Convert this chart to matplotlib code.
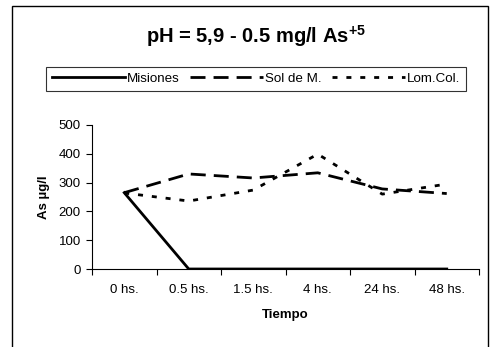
import matplotlib
matplotlib.use("Agg")
import matplotlib.pyplot as plt
from matplotlib.patches import Rectangle
from matplotlib.lines import Line2D

plt.rcParams['font.family'] = ['Liberation Sans', 'DejaVu Sans']
plt.rcParams['mathtext.fontset'] = 'custom'
plt.rcParams['mathtext.bf'] = 'Liberation Sans:bold'
plt.rcParams['mathtext.rm'] = 'Liberation Sans'

categories = ["0 hs.", "0.5 hs.", "1.5 hs.", "4 hs.", "24 hs.", "48 hs."]
misiones = [265, 0, 0, 0, 0, 0]
sol_de_m = [265, 330, 316, 334, 278, 262]
lom_col = [264, 236, 274, 399, 260, 295]
yticks = [0, 100, 200, 300, 400, 500]

W, H = 490, 347
fig = plt.figure(figsize=(W / 100, H / 100), dpi=100)

# outer chart frame
fig.patches.append(Rectangle((12 / W, -0.05), (488 - 12) / W, (H - 6) / H + 0.05,
                             transform=fig.transFigure, fill=False,
                             edgecolor='black', linewidth=1.0))

LW = 2.0
DASH = (0, (5.4, 2.9))
DOT = (0, (1.8, 3.2))

ax = fig.add_axes([92 / W, (H - 269) / H, (479 - 92) / W, (269 - 125) / H])
x = list(range(len(categories)))
ax.plot(x, misiones, color='black', linewidth=LW, linestyle='-', label='Misiones')
ax.plot(x, sol_de_m, color='black', linewidth=LW, linestyle=DASH, label='Sol de M.')
ax.plot(x, lom_col, color='black', linewidth=LW, linestyle=DOT, label='Lom.Col.')

ax.set_xlim(-0.5, len(categories) - 0.5)
ax.set_ylim(0, 500)
ax.set_yticks(yticks)
ax.set_yticklabels([str(v) for v in yticks], fontsize=9.5)
ax.set_xticks([i - 0.5 for i in range(len(categories) + 1)], minor=False)
ax.set_xticklabels([])
ax.set_xticks(x, minor=True)
ax.set_xticklabels(categories, minor=True, fontsize=9.5)
ax.tick_params(axis='x', which='minor', length=0, pad=11)
ax.tick_params(axis='x', which='major', direction='out', length=4, width=0.8)
ax.tick_params(axis='y', direction='out', length=4, width=0.8, pad=4)
for s in ['top', 'right']:
    ax.spines[s].set_visible(False)
ax.spines['left'].set_linewidth(0.8)
ax.spines['bottom'].set_linewidth(0.8)
ax.set_xlabel("Tiempo", fontsize=9.5, fontweight='bold', labelpad=9)
ax.set_ylabel("As µg/l", fontsize=9.5, fontweight='bold', labelpad=6)

fig.text(256 / W, 1 - 36 / H, r"pH = 5,9 - 0.5 mg/l As$^{\mathbf{+5}}$", ha='center', va='center',
         fontsize=14.5, fontweight='bold')

handles = [Line2D([], [], color='black', linewidth=LW, linestyle='-'),
           Line2D([], [], color='black', linewidth=LW, linestyle=DASH),
           Line2D([], [], color='black', linewidth=LW, linestyle=DOT)]
leg = fig.legend(handles, ["Misiones", "Sol de M.", "Lom.Col."], ncol=3,
                 loc='center', bbox_to_anchor=(256 / W, 1 - 79 / H),
                 fontsize=9.6, frameon=True, fancybox=False, handlelength=5.5,
                 handletextpad=0.15, columnspacing=0.75, borderpad=0.45,
                 borderaxespad=0)
leg.get_frame().set_edgecolor('black')
leg.get_frame().set_linewidth(0.8)

fig.savefig("out.png", dpi=100)
